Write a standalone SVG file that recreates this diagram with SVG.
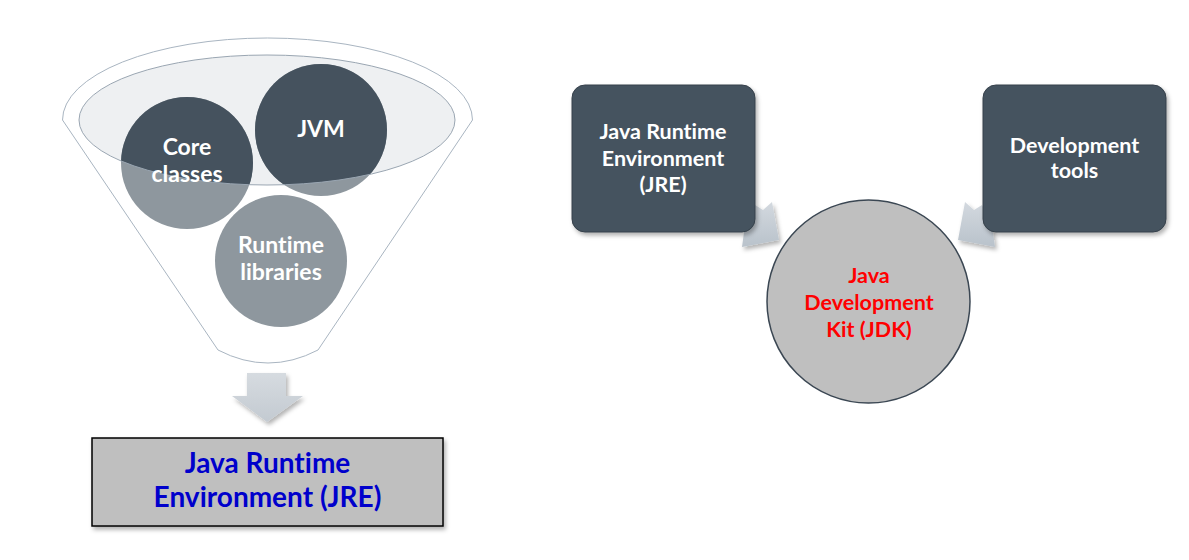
<svg xmlns="http://www.w3.org/2000/svg" width="1189" height="560" viewBox="0 0 1189 560">
<style>
.t{font-family:Lato,"Open Sans","Liberation Sans",sans-serif;font-weight:700;text-anchor:middle;font-variant-ligatures:none;font-feature-settings:"liga" 0}
.w{fill:#ffffff}
.f{font-size:23px}
.r{font-size:21.5px}
.dark{fill:#45525e}
.light{fill:#8e979e}
.rbox{fill:#45525e;stroke:#36414b;stroke-width:1}
.arr{fill:url(#ag)}
</style>
<defs>
<linearGradient id="ag" x1="0" y1="0" x2="0" y2="1">
<stop offset="0" stop-color="#d3d9df"/>
<stop offset="1" stop-color="#b9c2cb"/>
</linearGradient>
<linearGradient id="dg" x1="0" y1="0" x2="0" y2="1">
<stop offset="0" stop-color="#d6dbe0"/>
<stop offset="1" stop-color="#c3cad1"/>
</linearGradient>
<filter id="sh" x="-20%" y="-20%" width="140%" height="150%">
<feDropShadow dx="2" dy="3" stdDeviation="2" flood-color="#000" flood-opacity="0.3"/>
</filter>
<clipPath id="inner"><ellipse cx="267" cy="120" rx="188" ry="65"/></clipPath>
</defs>

<g id="funnel">
<path d="M62.5,120 A205,82 0 0 1 472.5,120 L318,350 Q268,376 218,350 Z" fill="#ffffff" stroke="#a9b5c1" stroke-width="1"/>
<ellipse cx="267" cy="120" rx="188" ry="65" fill="#eef0f2"/>
</g>

<g id="core-classes">
<circle cx="187" cy="163" r="66" class="light"/>
<circle cx="187" cy="163" r="66" class="dark" clip-path="url(#inner)"/>
</g>
<g id="jvm">
<circle cx="321" cy="130" r="66" class="light"/>
<circle cx="321" cy="130" r="66" class="dark" clip-path="url(#inner)"/>
</g>
<g id="runtime-libraries">
<circle cx="281" cy="261" r="66" class="light"/>
</g>
<ellipse cx="267" cy="120" rx="188" ry="65" fill="none" stroke="#9aa6b2" stroke-width="1"/>
<g id="funnel-labels">
<text class="t w f" x="187" y="155">Core</text>
<text class="t w f" x="187" y="182">classes</text>
<text class="t w f" x="321" y="137">JVM</text>
<text class="t w f" x="281" y="253">Runtime</text>
<text class="t w f" x="281" y="280">libraries</text>
</g>

<g id="connectors">
<path d="M247,373 H286 V396 H303 L267,422 L232,396 H247 Z" fill="url(#dg)" filter="url(#sh)"/>
<polygon class="arr" points="755,205 763,210 772,202 779,240 742,247 745,225" filter="url(#sh)"/>
<polygon class="arr" points="982,205 974,210 965,202 958,240 995,247 992,225" filter="url(#sh)"/>
</g>

<g id="jre-result">
<rect x="92" y="438" width="351" height="88" fill="#bfbfbf" stroke="#000000" stroke-width="1.5" filter="url(#sh)"/>
<text class="t" x="267.5" y="473" fill="#0000cc" font-size="28">Java Runtime</text>
<text class="t" x="267.5" y="507" fill="#0000cc" font-size="28">Environment (JRE)</text>
</g>

<g id="jre-box">
<rect x="572" y="85" width="183" height="147" rx="13" class="rbox" filter="url(#sh)"/>
<text class="t w r" x="663" y="139">Java Runtime</text>
<text class="t w r" x="663" y="166">Environment</text>
<text class="t w r" x="663" y="192">(JRE)</text>
</g>

<g id="devtools-box">
<rect x="983" y="85" width="183" height="147" rx="13" class="rbox" filter="url(#sh)"/>
<text class="t w r" x="1074.5" y="153">Development</text>
<text class="t w r" x="1074.5" y="178">tools</text>
</g>

<g id="jdk">
<circle cx="868.5" cy="301.5" r="101.5" fill="#bfbfbf" stroke="#3b4753" stroke-width="1.5"/>
<text class="t r" x="869" y="283" fill="#ff0000">Java</text>
<text class="t r" x="869" y="310" fill="#ff0000">Development</text>
<text class="t r" x="869" y="337" fill="#ff0000">Kit (JDK)</text>
</g>
</svg>
